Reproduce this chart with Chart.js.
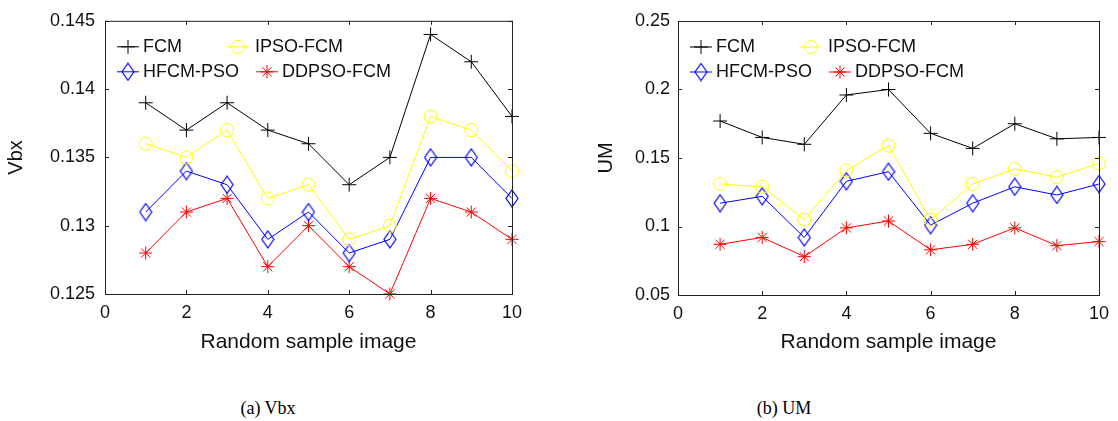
<!DOCTYPE html>
<html>
<head>
<meta charset="utf-8">
<script src="https://cdn.jsdelivr.net/npm/chart.js@4"></script>
<style>
  body { margin: 0; background: #fff; }
  #page { position: relative; width: 1118px; height: 421px; overflow: hidden; }
  .box { position: absolute; top: 0; height: 360px; }
  .cap { position: absolute; top: 398px; font: 18px "Liberation Serif", "Times New Roman", serif; color: #000; transform: translateX(-50%); white-space: nowrap; }
</style>
</head>
<body>
<div id="page">
  <div class="box" style="left:0;width:530px"><canvas id="chartA"></canvas></div>
  <div class="box" style="left:560px;width:558px"><canvas id="chartB"></canvas></div>
  <div class="cap" style="left:268px">(a) Vbx</div>
  <div class="cap" style="left:784px">(b) UM</div>
</div>
<script>
const samples = [1, 2, 3, 4, 5, 6, 7, 8, 9, 10];
const methods = ['FCM', 'IPSO-FCM', 'HFCM-PSO', 'DDPSO-FCM'];

const vbxFCM   = [0.139, 0.137, 0.139, 0.137, 0.136, 0.133, 0.135, 0.144, 0.142, 0.138];
const vbxIPSO  = [0.136, 0.135, 0.137, 0.132, 0.133, 0.129, 0.130, 0.138, 0.137, 0.134];
const vbxHFCM  = [0.131, 0.134, 0.133, 0.129, 0.131, 0.128, 0.129, 0.135, 0.135, 0.132];
const vbxDDPSO = [0.128, 0.131, 0.132, 0.127, 0.130, 0.127, 0.125, 0.132, 0.131, 0.129];

const umFCM   = [0.177, 0.165, 0.160, 0.196, 0.200, 0.168, 0.157, 0.175, 0.164, 0.165];
const umIPSO  = [0.131, 0.129, 0.105, 0.141, 0.159, 0.105, 0.131, 0.142, 0.136, 0.146];
const umHFCM  = [0.117, 0.122, 0.092, 0.133, 0.140, 0.101, 0.117, 0.129, 0.123, 0.131];
const umDDPSO = [0.087, 0.092, 0.078, 0.099, 0.104, 0.083, 0.087, 0.099, 0.086, 0.089];

const xTicks = [0, 2, 4, 6, 8, 10];
const vbxTicks = [0.125, 0.13, 0.135, 0.14, 0.145];
const umTicks = [0.05, 0.1, 0.15, 0.2, 0.25];

const FONT = '"Liberation Sans", Arial, sans-serif';
const TEXT = '#111';

// matlab's diamond marker is a bit taller than wide
function diamond(color) {
  const c = document.createElement('canvas');
  c.width = 14; c.height = 19;
  const g = c.getContext('2d');
  g.strokeStyle = color;
  g.lineWidth = 1.2;
  g.beginPath();
  g.moveTo(7, 1); g.lineTo(13, 9.5); g.lineTo(7, 18); g.lineTo(1, 9.5); g.closePath();
  g.stroke();
  return c;
}

const styles = [
  { color: '#000000', point: 'cross', radius: 7 },
  { color: '#ffff00', point: 'circle', radius: 6.5 },
  { color: '#0000ff', point: diamond('#0000ff'), radius: 7 },
  { color: '#ff0000', point: 'star', radius: 6.5 }
];

function makeDatasets(series) {
  return series.map((vals, i) => ({
    label: methods[i],
    data: samples.map((x, j) => ({ x: x, y: vals[j] })),
    borderColor: styles[i].color,
    backgroundColor: 'rgba(0,0,0,0)',
    pointBorderColor: styles[i].color,
    pointBackgroundColor: 'rgba(0,0,0,0)',
    pointStyle: styles[i].point,
    pointRadius: styles[i].radius,
    pointBorderWidth: 1,
    borderWidth: 1,
    tension: 0,
    clip: false
  }));
}

// box, inward ticks on all sides, legend inside the axes (matlab look)
const frame = {
  id: 'frame',
  afterDatasetsDraw(chart, args, opts) {
    const { ctx, chartArea: a, scales } = chart;
    ctx.save();
    ctx.strokeStyle = '#222';
    ctx.lineWidth = 1;
    ctx.strokeRect(a.left + 0.5, a.top + 0.5, a.right - a.left, a.bottom - a.top);
    ctx.beginPath();
    scales.x.ticks.forEach(t => {
      const px = Math.round(scales.x.getPixelForValue(t.value)) + 0.5;
      ctx.moveTo(px, a.bottom); ctx.lineTo(px, a.bottom - 4);
      ctx.moveTo(px, a.top); ctx.lineTo(px, a.top + 4);
    });
    scales.y.ticks.forEach(t => {
      const py = Math.round(scales.y.getPixelForValue(t.value)) + 0.5;
      ctx.moveTo(a.left, py); ctx.lineTo(a.left + 4, py);
      ctx.moveTo(a.right, py); ctx.lineTo(a.right - 4, py);
    });
    ctx.stroke();

    ctx.font = '18px ' + FONT;
    ctx.textBaseline = 'middle';
    ctx.textAlign = 'left';
    opts.items.forEach(it => {
      const ds = chart.data.datasets[it.ds];
      const y = a.top + it.y;
      const x0 = a.left + it.mx;
      ctx.strokeStyle = ds.borderColor;
      ctx.fillStyle = 'rgba(0,0,0,0)';
      ctx.lineWidth = 1;
      ctx.beginPath();
      ctx.moveTo(x0, y); ctx.lineTo(x0 + 22, y);
      ctx.stroke();
      Chart.helpers.drawPoint(ctx, {
        pointStyle: ds.pointStyle, radius: ds.pointRadius, rotation: 0, borderWidth: 1
      }, x0 + 11, y);
      ctx.fillStyle = TEXT;
      ctx.fillText(ds.label, a.left + it.tx, y);
    });
    ctx.restore();
  }
};

function makeChart(id, series, yTicks, yTitle, pad, yWidth, xHeight, tickPad) {
  return new Chart(document.getElementById(id), {
    type: 'line',
    data: { datasets: makeDatasets(series) },
    options: {
      responsive: true,
      maintainAspectRatio: false,
      animation: false,
      layout: { padding: pad },
      plugins: {
        legend: { display: false },
        tooltip: { enabled: false },
        frame: {
          items: [
            { ds: 0, mx: 12, tx: 38, y: 26 },
            { ds: 1, mx: 122, tx: 150, y: 26 },
            { ds: 2, mx: 12, tx: 38, y: 51 },
            { ds: 3, mx: 151, tx: 177, y: 51 }
          ]
        }
      },
      scales: {
        x: {
          type: 'linear',
          min: 0, max: 10,
          afterBuildTicks: s => { s.ticks = xTicks.map(v => ({ value: v })); },
          afterFit: s => { s.height = xHeight; },
          grid: { display: false, drawTicks: false },
          border: { display: false },
          ticks: { padding: 8, color: TEXT, font: { family: FONT, size: 18 } },
          title: { display: true, text: 'Random sample image', color: TEXT,
                   font: { family: FONT, size: 21 }, padding: { top: 0, bottom: 5 } }
        },
        y: {
          min: yTicks[0], max: yTicks[yTicks.length - 1],
          afterBuildTicks: s => { s.ticks = yTicks.map(v => ({ value: v })); },
          afterFit: s => { s.width = yWidth; },
          grid: { display: false, drawTicks: false },
          border: { display: false },
          ticks: { padding: tickPad, color: TEXT, font: { family: FONT, size: 18 },
                   callback: v => String(+v.toFixed(3)) },
          title: { display: true, text: yTitle, color: TEXT,
                   font: { family: FONT, size: 20 }, padding: { top: 4, bottom: 0 } }
        }
      }
    },
    plugins: [frame]
  });
}

makeChart('chartA', [vbxFCM, vbxIPSO, vbxHFCM, vbxDDPSO], vbxTicks, 'Vbx',
  { top: 20, right: 15, bottom: 0, left: 0 }, 105, 66, 10);
makeChart('chartB', [umFCM, umIPSO, umHFCM, umDDPSO], umTicks, 'UM',
  { top: 21, right: 19, bottom: 0, left: 30 }, 88, 65, 8);
</script>
</body>
</html>
